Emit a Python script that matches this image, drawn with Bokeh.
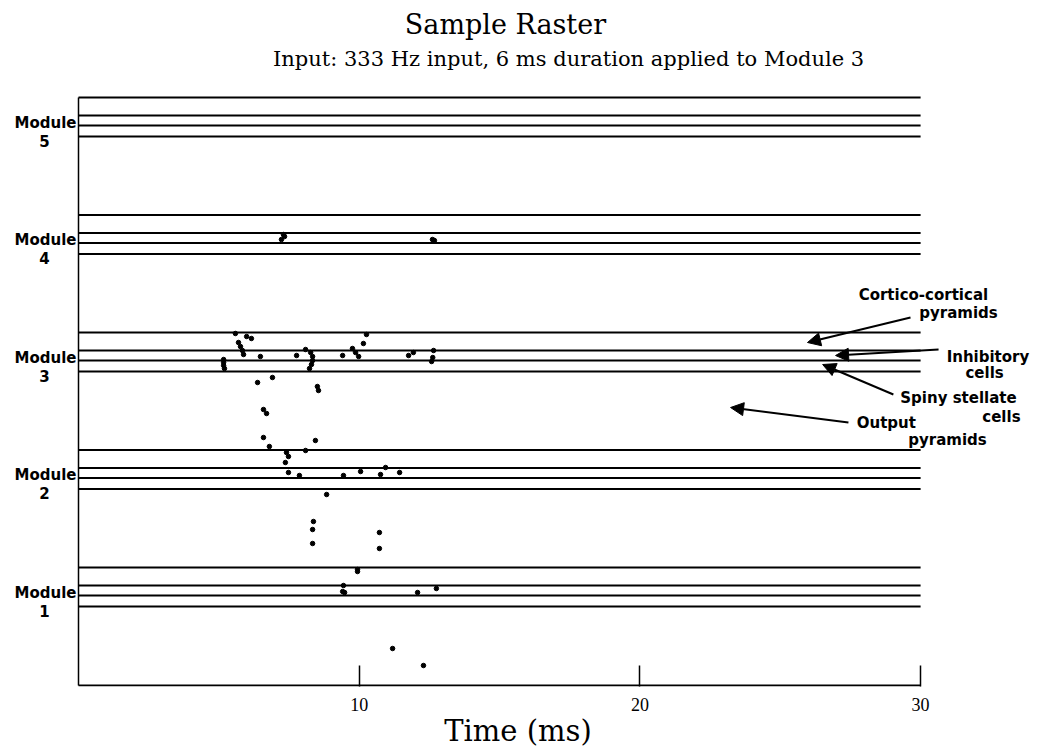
from bokeh.plotting import figure
from bokeh.models import Label, Arrow, NormalHead, FixedTicker, Range1d
from bokeh.embed import file_html
from bokeh.resources import INLINE

# ---------------- data ----------------
sim_duration = 30.0                      # ms
module_names = ["1", "2", "3", "4", "5"]
module_base = [0.0, 117.5, 235.0, 352.5, 470.0]   # cell index of module start
# layer boundaries inside a module (cell index offsets):
# output pyramids | spiny stellate | inhibitory | cortico-cortical
layer_bounds = [79, 90, 100, 118]

spike_times = [
    7.30, 7.34, 7.23, 12.61, 12.68,
    5.59, 5.99, 6.16, 5.70, 5.77, 5.84, 5.88, 6.48,
    5.17, 5.17, 5.17, 5.20, 7.77,
    8.09, 8.27, 8.34, 8.34, 8.30, 8.23,
    10.26, 10.15, 9.41, 9.76, 9.87, 9.98,
    11.93, 11.76, 12.65, 12.58, 12.62,
    6.38, 6.91, 8.51, 8.55, 6.59, 6.70, 6.59, 6.80, 8.44,
    7.41, 7.48, 7.37, 7.48, 7.87,
    9.44, 10.05, 10.76, 10.94, 11.44, 8.09, 8.84,
    8.37, 8.34, 8.34, 10.72, 10.72,
    9.94, 9.94, 9.44, 9.41, 9.48, 12.08, 12.75,
    11.19, 12.29,
]
spike_cells = [
    451, 449, 446, 446, 445,
    352, 349, 347, 343, 339, 335, 331, 329,
    326, 323, 320, 317, 330,
    336, 333, 329, 325, 321, 317,
    351, 342, 330, 337, 333, 329,
    333, 330, 335, 324, 328,
    303, 308, 299, 295, 276, 272, 248, 239, 245,
    233, 229, 223, 213, 210,
    210, 214, 211, 218, 213, 235, 191,
    164, 156, 142, 153, 137,
    116, 114, 100, 94, 93, 93, 97,
    37, 20,
]
x_ticks = [10, 20, 30]

title_text = "Sample Raster"
subtitle_text = "Input: 333 Hz input, 6 ms duration applied to Module 3"
xlabel_text = "Time (ms)"

annotations = [  # text, x (ms), y (cell)
    ("Cortico-cortical", 30.10, 391),
    ("pyramids", 31.35, 373),
    ("Inhibitory", 32.40, 329),
    ("cells", 32.28, 313),
    ("Spiny stellate", 31.35, 288),
    ("cells", 32.88, 269),
    ("Output", 28.78, 263),
    ("pyramids", 30.96, 246),
]
arrows = [  # x_start, y_start, x_end, y_end
    (29.64, 368, 25.97, 343),
    (30.64, 336, 26.97, 330),
    (29.03, 291, 26.51, 321),
    (27.43, 263, 23.23, 278),
]

# ---------------- figure ----------------
W, H = 1035, 750
LEFT_PX, PX_PER_MS = 78.0, 28.07
AXIS_PX = 686
p = figure(width=W, height=H, output_backend="svg", toolbar_location=None,
           x_range=Range1d(-LEFT_PX / PX_PER_MS, (W - LEFT_PX) / PX_PER_MS),
           y_range=Range1d(-1, AXIS_PX - 1),
           min_border_left=0, min_border_right=0,
           min_border_top=0, min_border_bottom=H - AXIS_PX)
p.outline_line_color = None
p.xgrid.visible = False
p.ygrid.visible = False
p.yaxis.visible = False
p.background_fill_color = "white"
p.border_fill_color = "white"

# bottom axis (ticks, labels, title); its baseline is drawn from 0 to 30 ms below
xa = p.xaxis[0]
xa.ticker = FixedTicker(ticks=x_ticks)
xa.minor_tick_line_color = None
xa.major_tick_in = 21
xa.major_tick_out = 0
xa.major_tick_line_width = 1.5
xa.major_tick_line_color = "black"
xa.axis_line_color = None
xa.major_label_text_font = "Liberation Serif"
xa.major_label_text_font_size = "18px"
xa.major_label_text_color = "black"
xa.major_label_standoff = 11
xa.axis_label = xlabel_text
xa.axis_label_text_font = "DejaVu Serif"
xa.axis_label_text_font_style = "normal"
xa.axis_label_text_font_size = "29px"
xa.axis_label_text_color = "black"
xa.axis_label_standoff = 0

# frame: baseline and left border
top_line = module_base[-1] + layer_bounds[-1]
p.segment(x0=[0.0], x1=[sim_duration], y0=[0.0], y1=[0.0],
          line_color="black", line_width=2)
p.segment(x0=[0.0], x1=[0.0], y0=[0.0], y1=[top_line],
          line_color="black", line_width=1.5)

# layer lines
ys = [b + lb for b in module_base for lb in layer_bounds]
p.segment(x0=[0.0] * len(ys), x1=[sim_duration] * len(ys), y0=ys, y1=ys,
          line_color="black", line_width=2)

# spikes
p.scatter(spike_times, spike_cells, marker="circle", size=4.5,
          fill_color="black", line_color="black")

# module labels
for name, b in zip(module_names, module_base):
    p.add_layout(Label(x=-0.07, y=b + 93, text="Module", text_align="right",
                       text_baseline="middle", text_font="DejaVu Sans",
                       text_font_style="bold", text_font_size="15px",
                       text_color="black"))
    p.add_layout(Label(x=-1.21, y=b + 75, text=name, text_align="center",
                       text_baseline="middle", text_font="DejaVu Sans",
                       text_font_style="bold", text_font_size="15px",
                       text_color="black"))

# titles
p.add_layout(Label(x=15.21, y=661, text=title_text, text_align="center",
                   text_baseline="alphabetic", text_font="DejaVu Serif",
                   text_font_size="27px", text_color="black"))
p.add_layout(Label(x=17.46, y=627, text=subtitle_text, text_align="center",
                   text_baseline="alphabetic", text_font="DejaVu Serif",
                   text_font_size="21px", text_color="black"))

# right-hand annotations
for txt, ax, ay in annotations:
    p.add_layout(Label(x=ax, y=ay, text=txt, text_align="center",
                       text_baseline="middle", text_font="DejaVu Sans",
                       text_font_style="bold", text_font_size="15px",
                       text_color="black"))
for x0, y0, x1, y1 in arrows:
    p.add_layout(Arrow(x_start=x0, y_start=y0, x_end=x1, y_end=y1,
                       line_color="black", line_width=2,
                       end=NormalHead(size=13, fill_color="black",
                                      line_color="black")))

open("out.html", "w").write(file_html(p, INLINE))
